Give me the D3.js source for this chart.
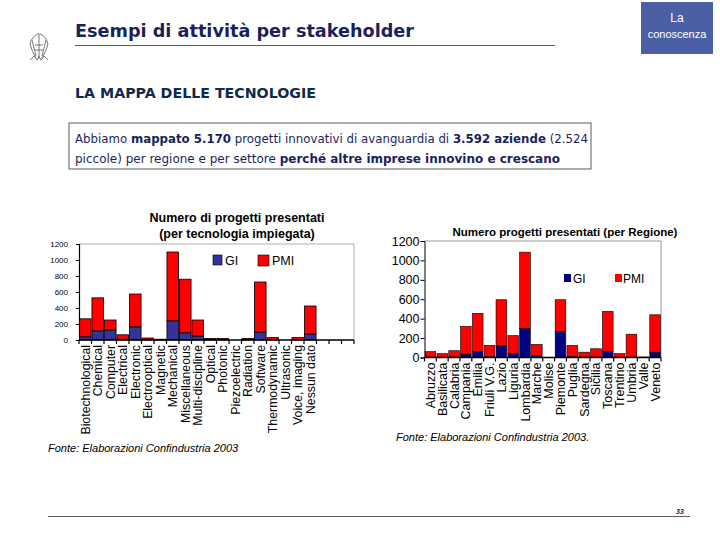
<!DOCTYPE html>
<html>
<head>
<meta charset="utf-8">
<script src="https://cdn.jsdelivr.net/npm/d3@7"></script>
<style>
  body { margin: 0; background: #fff; }
  svg text { font-family: "Liberation Sans", Arial, sans-serif; }
  .ver { font-family: "DejaVu Sans", Verdana, sans-serif !important; }
</style>
</head>
<body>
<svg id="svg"></svg>
<script>
// data: projects per technology (GI = large firms, PMI = small/medium)
let techs = ["Biotechnological", "Chemical", "Computer", "Electrical", "Electronic",
  "Electrooptical", "Magnetic", "Mechanical", "Miscellaneous", "Multi-discipline",
  "Optical", "Photonic", "Piezoelectric", "Radiation", "Software", "Thermodynamic",
  "Ultrasonic", "Voice, imaging", "Nessun dato"];
let techGI  = [40, 115, 125, 10, 165, 5, 3, 240, 90, 50, 5, 5, 0, 5, 100, 5, 0, 5, 75];
let techPMI = [225, 412, 125, 55, 410, 20, 7, 860, 670, 200, 15, 15, 0, 15, 625, 25, 0, 25, 350];

// data: projects per region
let regions = ["Abruzzo", "Basilicata", "Calabria", "Campania", "Emilia", "Friuli V.G.",
  "Lazio", "Liguria", "Lombardia", "Marche", "Molise", "Piemonte", "Puglia", "Sardegna",
  "Sicilia", "Toscana", "Trentino", "Umbria", "Valle", "Veneto"];
let regGI  = [5, 3, 5, 35, 60, 10, 120, 40, 300, 20, 0, 270, 10, 5, 5, 65, 3, 5, 0, 55];
let regPMI = [55, 37, 65, 285, 395, 115, 475, 185, 785, 115, 0, 325, 115, 50, 85, 410, 37, 235, 5, 385];

let yTicks = [0, 200, 400, 600, 800, 1000, 1200];
let navy = "#1b1f5c";

function sketch() {
    let svg = d3.select("#svg").attr("width", 720).attr("height", 540);

    // ---- header ----
    let logo = svg.append("g").attr("stroke", "#777").attr("fill", "none").attr("stroke-width", 1);
    logo.append("path").attr("d", "M38,34 q-6,2 -8,10 q2,8 6,14 M40,34 q6,2 8,10 q-2,8 -6,14");
    logo.append("path").attr("d", "M32,40 l4,16 M46,40 l-4,16 M39,33 v26 M35,45 h8 M34,50 h10");
    logo.append("path").attr("d", "M30,60 l4,-4 l3,4 l2,-4 l2,4 l3,-4 l4,4");

    svg.append("text").attr("class", "ver")
        .attr("x", 75).attr("y", 37)
        .attr("font-size", 18).attr("font-weight", "bold").attr("fill", navy)
        .attr("textLength", 339).attr("lengthAdjust", "spacingAndGlyphs")
        .text("Esempi di attività per stakeholder");
    svg.append("line").attr("x1", 75).attr("x2", 555).attr("y1", 45.5).attr("y2", 45.5)
        .attr("stroke", "#333").attr("stroke-width", 0.8);

    svg.append("rect").attr("x", 641).attr("y", 2).attr("width", 72).attr("height", 52)
        .attr("fill", "#4a5fa5");
    svg.append("text").attr("x", 677).attr("y", 22).attr("text-anchor", "middle")
        .attr("font-size", 12).attr("fill", "#fff").text("La");
    svg.append("text").attr("x", 677).attr("y", 38).attr("text-anchor", "middle")
        .attr("font-size", 11).attr("fill", "#fff").text("conoscenza");

    svg.append("text").attr("class", "ver")
        .attr("x", 75).attr("y", 98)
        .attr("font-size", 13.5).attr("font-weight", "bold").attr("fill", "#0f2a4a")
        .attr("textLength", 241).attr("lengthAdjust", "spacingAndGlyphs")
        .text("LA MAPPA DELLE TECNOLOGIE");

    svg.append("rect").attr("x", 69).attr("y", 123).attr("width", 522).attr("height", 46)
        .attr("fill", "none").attr("stroke", "#333").attr("stroke-width", 0.8);
    let l1 = svg.append("text").attr("class", "ver").attr("x", 75).attr("y", 143)
        .attr("font-size", 11.5).attr("fill", navy)
        .attr("textLength", 513).attr("lengthAdjust", "spacingAndGlyphs");
    [["Abbiamo ", false], ["mappato 5.170", true], [" progetti innovativi di avanguardia di ", false],
     ["3.592 aziende", true], [" (2.524", false]].forEach(p => {
        l1.append("tspan").attr("font-weight", p[1] ? "bold" : "normal").text(p[0]);
    });
    let l2 = svg.append("text").attr("class", "ver").attr("x", 75).attr("y", 163)
        .attr("font-size", 11.5).attr("fill", navy)
        .attr("textLength", 485).attr("lengthAdjust", "spacingAndGlyphs");
    [["piccole) per regione e per settore ", false], ["perché altre imprese innovino e crescano", true]]
        .forEach(p => {
        l2.append("tspan").attr("font-weight", p[1] ? "bold" : "normal").text(p[0]);
    });

    // ---- left chart: by technology ----
    let L = { x0: 79, x1: 354, y0: 340, y1: 244 };
    let xl = d3.scaleBand().domain(d3.range(22)).range([L.x0, L.x1]).paddingInner(0.07).paddingOuter(0.035);
    let xlEdge = d3.scaleLinear().domain([0, 22]).range([L.x0, L.x1]);
    let yl = d3.scaleLinear().domain([0, 1200]).range([L.y0, L.y1]);
    let gl = svg.append("g");

    gl.append("path").attr("d", `M${L.x0},${L.y1}H${L.x1}V${L.y0}`)
        .attr("fill", "none").attr("stroke", "#999").attr("stroke-width", 0.8);

    let techRows = techs.map((t, i) => ({ key: i, GI: techGI[i], PMI: techPMI[i] }));
    let techStack = d3.stack().keys(["GI", "PMI"])(techRows);
    let techColor = { GI: "#333399", PMI: "#ff0000" };
    techStack.forEach(s => {
        gl.selectAll(null).data(s.filter(d => d[1] > d[0])).enter().append("rect")
            .attr("x", d => xl(d.data.key))
            .attr("width", xl.bandwidth())
            .attr("y", d => yl(d[1]))
            .attr("height", d => yl(d[0]) - yl(d[1]))
            .attr("fill", techColor[s.key])
            .attr("stroke", "#000").attr("stroke-width", 0.8);
    });

    let yAxL = gl.append("g").attr("transform", `translate(${L.x0},0)`)
        .call(d3.axisLeft(yl).tickValues(yTicks).tickFormat(d3.format("d")).tickSize(3).tickPadding(8));
    yAxL.selectAll("text").attr("font-size", 8).attr("font-family", "Liberation Sans, Arial");
    yAxL.select(".domain").attr("stroke-width", 1.2);

    gl.append("line").attr("x1", L.x0).attr("x2", L.x1).attr("y1", L.y0).attr("y2", L.y0)
        .attr("stroke", "#000").attr("stroke-width", 1.5);
    gl.selectAll(null).data(d3.range(23)).enter().append("line")
        .attr("x1", d => xlEdge(d)).attr("x2", d => xlEdge(d))
        .attr("y1", L.y0).attr("y2", L.y0 + 4)
        .attr("stroke", "#000").attr("stroke-width", 1.2);
    gl.selectAll(null).data(techs).enter().append("text")
        .attr("transform", (d, i) => `translate(${xl(i) + xl.bandwidth() / 2 + 4.5},${L.y0 + 5}) rotate(-90)`)
        .attr("text-anchor", "end").attr("font-size", 12.3)
        .text(d => d);

    gl.append("text").attr("x", 237).attr("y", 222).attr("text-anchor", "middle")
        .attr("font-size", 12.5).attr("font-weight", "bold").text("Numero di progetti presentati");
    gl.append("text").attr("x", 237).attr("y", 238).attr("text-anchor", "middle")
        .attr("font-size", 12.5).attr("font-weight", "bold").text("(per tecnologia impiegata)");

    gl.append("rect").attr("x", 213).attr("y", 255).attr("width", 9).attr("height", 10)
        .attr("fill", techColor.GI).attr("stroke", "#000").attr("stroke-width", 0.6);
    gl.append("text").attr("x", 225).attr("y", 265).attr("font-size", 12.5).text("GI");
    gl.append("rect").attr("x", 258).attr("y", 255).attr("width", 11).attr("height", 11)
        .attr("fill", techColor.PMI).attr("stroke", "#000").attr("stroke-width", 0.6);
    gl.append("text").attr("x", 272).attr("y", 265).attr("font-size", 12.5).text("PMI");

    gl.append("text").attr("x", 48).attr("y", 452).attr("font-size", 11)
        .attr("font-style", "italic").text("Fonte: Elaborazioni Confindustria 2003");

    // ---- right chart: by region ----
    let R = { x0: 424.5, x1: 661, y0: 357.5, y1: 241 };
    let xr = d3.scaleBand().domain(regions).range([R.x0, R.x1]).paddingInner(0.1).paddingOuter(0.05);
    let xrEdge = d3.scaleLinear().domain([0, regions.length]).range([R.x0, R.x1]);
    let yr = d3.scaleLinear().domain([0, 1200]).range([R.y0, R.y1]);
    let gr = svg.append("g");

    gr.append("path").attr("d", `M${R.x0},${R.y1}H${R.x1}V${R.y0}`)
        .attr("fill", "none").attr("stroke", "#999").attr("stroke-width", 1);

    let regRows = regions.map((r, i) => ({ key: r, GI: regGI[i], PMI: regPMI[i] }));
    let regStack = d3.stack().keys(["GI", "PMI"])(regRows);
    let regColor = { GI: "#000080", PMI: "#ff0000" };
    regStack.forEach(s => {
        gr.selectAll(null).data(s.filter(d => d[1] > d[0])).enter().append("rect")
            .attr("x", d => xr(d.data.key))
            .attr("width", xr.bandwidth())
            .attr("y", d => yr(d[1]))
            .attr("height", d => yr(d[0]) - yr(d[1]))
            .attr("fill", regColor[s.key])
            .attr("stroke", "#000").attr("stroke-width", 0.6);
    });

    let yAxR = gr.append("g").attr("transform", `translate(${R.x0},0)`)
        .call(d3.axisLeft(yr).tickValues(yTicks).tickFormat(d3.format("d")).tickSize(4).tickPadding(1));
    yAxR.selectAll("text").attr("font-size", 12.5).attr("font-family", "Liberation Sans, Arial");
    yAxR.select(".domain").attr("stroke-width", 1);

    gr.append("line").attr("x1", R.x0).attr("x2", R.x1).attr("y1", R.y0).attr("y2", R.y0)
        .attr("stroke", "#000").attr("stroke-width", 1.5);
    gr.selectAll(null).data(d3.range(regions.length + 1)).enter().append("line")
        .attr("x1", d => xrEdge(d)).attr("x2", d => xrEdge(d))
        .attr("y1", R.y0).attr("y2", R.y0 + 4)
        .attr("stroke", "#000").attr("stroke-width", 1.2);
    gr.selectAll(null).data(regions).enter().append("text")
        .attr("transform", d => `translate(${xr(d) + xr.bandwidth() / 2 + 4.5},${R.y0 + 5}) rotate(-90)`)
        .attr("text-anchor", "end").attr("font-size", 12.5)
        .text(d => d);

    gr.append("text").attr("x", 565).attr("y", 236).attr("text-anchor", "middle")
        .attr("font-size", 11.5).attr("font-weight", "bold").text("Numero progetti presentati (per Regione)");

    gr.append("rect").attr("x", 564).attr("y", 274).attr("width", 7).attr("height", 8)
        .attr("fill", regColor.GI);
    gr.append("text").attr("x", 573).attr("y", 283).attr("font-size", 12).text("GI");
    gr.append("rect").attr("x", 615).attr("y", 274).attr("width", 7).attr("height", 8)
        .attr("fill", regColor.PMI);
    gr.append("text").attr("x", 623).attr("y", 283).attr("font-size", 12).text("PMI");

    gr.append("text").attr("x", 396).attr("y", 441).attr("font-size", 11)
        .attr("font-style", "italic").text("Fonte: Elaborazioni Confindustria 2003.");

    // ---- footer ----
    svg.append("line").attr("x1", 48).attr("x2", 690).attr("y1", 516.5).attr("y2", 516.5)
        .attr("stroke", "#333").attr("stroke-width", 0.8);
    svg.append("text").attr("x", 676).attr("y", 514).attr("font-size", 7)
        .attr("font-style", "italic").attr("font-weight", "bold").attr("fill", navy).text("33");
}
sketch();
</script>
</body>
</html>
